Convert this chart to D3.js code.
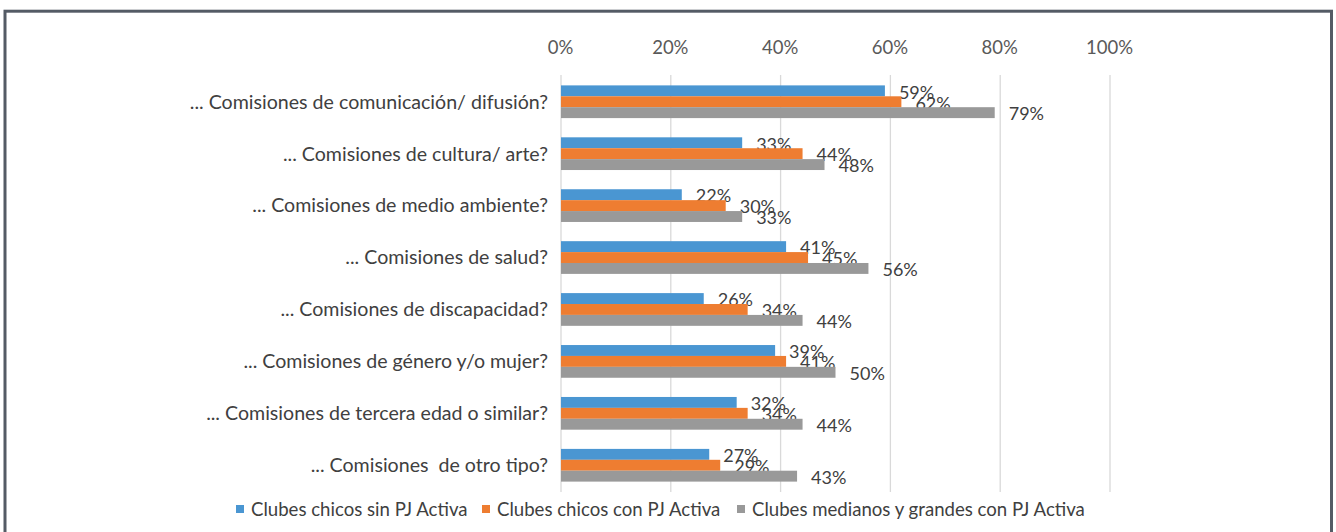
<!DOCTYPE html>
<html>
<head>
<meta charset="utf-8">
<script src="https://cdn.jsdelivr.net/npm/d3@7"></script>
<style>
  body { margin: 0; background: #fff; }
  svg text { font-family: Lato, "Open Sans", sans-serif; fill: #404040; }
</style>
</head>
<body>
<svg id="chart" width="1336" height="532"></svg>
<script>
const categories = [
  "... Comisiones de comunicación/ difusión?",
  "... Comisiones de cultura/ arte?",
  "... Comisiones de medio ambiente?",
  "... Comisiones de salud?",
  "... Comisiones de discapacidad?",
  "... Comisiones de género y/o mujer?",
  "... Comisiones de tercera edad o similar?",
  "... Comisiones  de otro tipo?"
];
const seriesNames = [
  "Clubes chicos sin PJ Activa",
  "Clubes chicos con PJ Activa",
  "Clubes medianos y grandes con PJ Activa"
];
const chicosSin = [59, 33, 22, 41, 26, 39, 32, 27];
const chicosCon = [62, 44, 30, 45, 34, 41, 34, 29];
const medianosGrandes = [79, 48, 33, 56, 44, 50, 44, 43];
const xTicks = [0, 20, 40, 60, 80, 100];
const colors = ["#4a96d2", "#ee7d31", "#999999"];

const series = [chicosSin, chicosCon, medianosGrandes];

const plotLeft = 561, plotRight = 1110, plotTop = 75, plotBottom = 492;

const svg = d3.select("#chart");

// frame
svg.append("rect")
  .attr("x", 5).attr("y", 11.2)
  .attr("width", 1326.5).attr("height", 540)
  .attr("fill", "none")
  .attr("stroke", "#545b65")
  .attr("stroke-width", 3);

const x = d3.scaleLinear().domain([0, 100]).range([plotLeft, plotRight]);

const y = d3.scaleBand()
  .domain(categories)
  .range([plotTop, plotBottom])
  .paddingInner(0.37)
  .paddingOuter(0.2);

const ySub = d3.scaleBand()
  .domain(d3.range(series.length))
  .range([0, y.bandwidth()]);

// gridlines
svg.append("g")
  .selectAll("line")
  .data(xTicks)
  .join("line")
  .attr("x1", d => x(d)).attr("x2", d => x(d))
  .attr("y1", plotTop).attr("y2", plotBottom)
  .attr("stroke", "#d9d9d9")
  .attr("stroke-width", 1.3);

// top axis labels
const xAxis = d3.axisTop(x).tickValues(xTicks).tickFormat(d => d + "%").tickSize(0).tickPadding(0);
const gx = svg.append("g")
  .attr("transform", `translate(-1, 54)`)
  .call(xAxis);
gx.select(".domain").remove();
gx.selectAll("text")
  .style("font-size", "18.5px")
  .style("fill", "#595959")
  .style("font-family", "Lato, sans-serif");

// category labels
svg.append("g")
  .selectAll("text")
  .data(categories)
  .join("text")
  .attr("x", 548)
  .attr("y", d => y(d) + y.bandwidth() / 2)
  .attr("dy", "0.35em")
  .attr("text-anchor", "end")
  .style("font-size", "19.6px")
  .style("white-space", "pre")
  .text(d => d);

// bars
series.forEach((vals, s) => {
  const g = svg.append("g");
  g.selectAll("rect")
    .data(vals)
    .join("rect")
    .attr("x", x(0))
    .attr("y", (d, i) => y(categories[i]) + ySub(s))
    .attr("width", d => x(d) - x(0))
    .attr("height", ySub.bandwidth())
    .attr("fill", colors[s]);
  g.selectAll("text")
    .data(vals)
    .join("text")
    .attr("x", d => x(d) + 14)
    .attr("y", (d, i) => y(categories[i]) + ySub(s) + ySub.bandwidth() / 2 + 1.5)
    .attr("dy", "0.35em")
    .style("font-size", "18px")
    .text(d => d + "%");
});

// legend
const legendX = [236, 482, 737];
const legend = svg.append("g");
seriesNames.forEach((name, s) => {
  legend.append("rect")
    .attr("x", legendX[s]).attr("y", 505)
    .attr("width", 8).attr("height", 8)
    .attr("fill", colors[s]);
  legend.append("text")
    .attr("x", legendX[s] + 15)
    .attr("y", 509)
    .attr("dy", "0.35em")
    .style("font-size", "18.6px")
    .text(name);
});
</script>
</body>
</html>
